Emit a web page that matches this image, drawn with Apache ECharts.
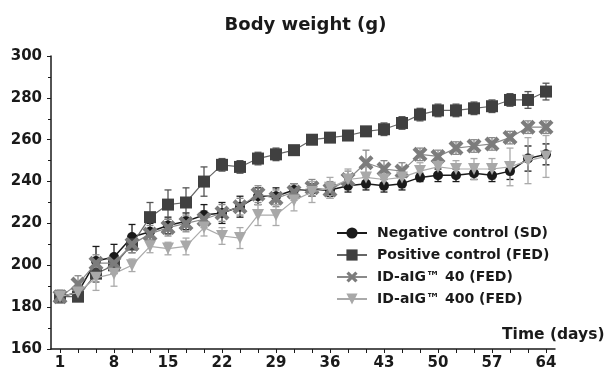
<!DOCTYPE html>
<html><head><meta charset="utf-8">
<script src="https://cdn.jsdelivr.net/npm/echarts@6/dist/echarts.min.js"></script>
<style>html,body{margin:0;padding:0;background:#fff}#c{width:611px;height:371px}</style>
</head><body><div id="c"></div>
<script>
const days = [1,3,6,8,10,13,15,17,20,22,24,27,29,31,34,36,38,41,43,45,48,50,52,55,57,59,62,64];
const tickLabels = [1,8,15,22,29,36,43,50,57,64];
const negative = [185,187,202,204,213.5,216,219,221,224,225,228,233,233,236,236,236,238,239,238,239,242,243,243,244,243,245,251,253];
const negativeErr = [3,3,7,6,6,4,4,4,5,5,5,4,4,3,3,3,3,3,3,3,2,3,3,3,3,4,6,5];
const positive = [185,185,196,200,210,223,229,230,240,248,247,251,253,255,260,261,262,264,265,268,272,274,274,275,276,279,279,283];
const positiveErr = [2,2,4,4,4,7,7,7,7,3,3,3,3,2,2,2,2,2,3,3,3,3,3,3,3,3,4,4];
const aig40 = [185,191,201,201,210,215,218,220,222,225,228,234,232,235,237,236,241,249,246,245,253,252,256,257,258,261,266,266];
const aig40Err = [3,4,4,4,4,4,4,4,4,4,4,4,4,4,4,4,4,6,4,4,3,3,3,3,3,3,3,3];
const aig400 = [185,187,194,196,200,209,208,209,218,214,213,224,224,231,235,237,241,242,241,242,245,247,246,246,246,247,250,252];
const aig400Err = [3,3,6,6,3,3,3,4,4,4,5,5,5,5,5,5,5,5,5,5,4,4,4,5,5,9,11,10];
const names = ['Negative control (SD)','Positive control (FED)','ID-aIG\u2122 40 (FED)','ID-aIG\u2122 400 (FED)'];

const FONT = '"DejaVu Sans", "Liberation Sans", Arial, sans-serif';
const xPath = 'path://M0,4 L4,0 L10,6 L16,0 L20,4 L14,10 L20,16 L16,20 L10,14 L4,20 L0,16 L6,10 Z';

function errSeries(vals, errs, color, z) {
  return {
    type: 'custom', silent: true, z: z,
    data: vals.map((v, i) => [i, v, errs[i]]),
    renderItem: function (params, api) {
      const x = api.value(0), y = api.value(1), e = api.value(2);
      const hi = api.coord([x, y + e]), lo = api.coord([x, y - e]);
      const w = 3.5, st = {stroke: color, lineWidth: 1.3};
      return {type: 'group', children: [
        {type: 'line', shape: {x1: hi[0], y1: hi[1], x2: lo[0], y2: lo[1]}, style: st},
        {type: 'line', shape: {x1: hi[0] - w, y1: hi[1], x2: hi[0] + w, y2: hi[1]}, style: st},
        {type: 'line', shape: {x1: lo[0] - w, y1: lo[1], x2: lo[0] + w, y2: lo[1]}, style: st}
      ]};
    }
  };
}

const chart = echarts.init(document.getElementById('c'), null, {renderer: 'canvas'});
chart.setOption({
  animation: false,
  backgroundColor: '#fff',
  title: {text: 'Body weight (g)', left: 'center', top: 11,
    textStyle: {fontFamily: FONT, fontWeight: 'bold', fontSize: 18, color: '#1a1a1a'}},
  legend: {
    data: names, orient: 'vertical', left: 331, top: 221,
    itemWidth: 30, itemHeight: 14, itemGap: 8,
    textStyle: {fontFamily: FONT, fontWeight: 'bold', fontSize: 14, color: '#1a1a1a', padding: [0, 0, 0, 5]}
  },
  grid: {left: 51, right: 56, top: 56, bottom: 22},
  xAxis: {
    type: 'category', data: days.map(String), boundaryGap: true,
    axisLine: {lineStyle: {color: '#1a1a1a', width: 1.5}},
    axisTick: {show: true, alignWithLabel: true, interval: 0, length: 4, lineStyle: {color: '#1a1a1a', width: 1}},
    axisLabel: {interval: 0, margin: 7, fontFamily: FONT, fontWeight: 'bold', fontSize: 15, color: '#1a1a1a',
      formatter: function (v) { return tickLabels.indexOf(Number(v)) >= 0 ? v : ''; }}
  },
  yAxis: {
    type: 'value', min: 160, max: 300, interval: 20,
    splitLine: {show: false},
    axisLine: {show: true, lineStyle: {color: '#1a1a1a', width: 1.5}},
    axisTick: {show: true, length: 4, lineStyle: {color: '#1a1a1a', width: 1}},
    minorTick: {show: true, splitNumber: 2, length: 3, lineStyle: {color: '#1a1a1a', width: 1}},
    axisLabel: {margin: 9, fontFamily: FONT, fontWeight: 'bold', fontSize: 15, color: '#1a1a1a'}
  },
  graphic: [{type: 'text', left: 502, top: 327,
    style: {text: 'Time (days)', fontFamily: FONT, fontWeight: 'bold', fontSize: 15.5, fill: '#1a1a1a'}}],
  series: [
    errSeries(negative, negativeErr, '#1a1a1a', 1),
    errSeries(positive, positiveErr, '#555555', 1),
    errSeries(aig40, aig40Err, '#8a8a8a', 1),
    errSeries(aig400, aig400Err, '#aaaaaa', 1),
    {name: names[0], type: 'line', data: negative, z: 3, symbol: 'circle', symbolSize: 10,
      itemStyle: {color: '#1a1a1a'}, lineStyle: {color: '#1a1a1a', width: 1.5}},
    {name: names[1], type: 'line', data: positive, z: 4, symbol: 'rect', symbolSize: 12,
      itemStyle: {color: '#404040'}, lineStyle: {color: '#666666', width: 1.2}},
    {name: names[2], type: 'line', data: aig40, z: 5, symbol: xPath, symbolSize: 15,
      itemStyle: {color: '#7c7c7c'}, lineStyle: {color: '#8a8a8a', width: 1.2}},
    {name: names[3], type: 'line', data: aig400, z: 6, symbol: 'triangle', symbolRotate: 180, symbolSize: 12,
      itemStyle: {color: '#a8a8a8'}, lineStyle: {color: '#aaaaaa', width: 1.2}}
  ]
});
</script></body></html>
